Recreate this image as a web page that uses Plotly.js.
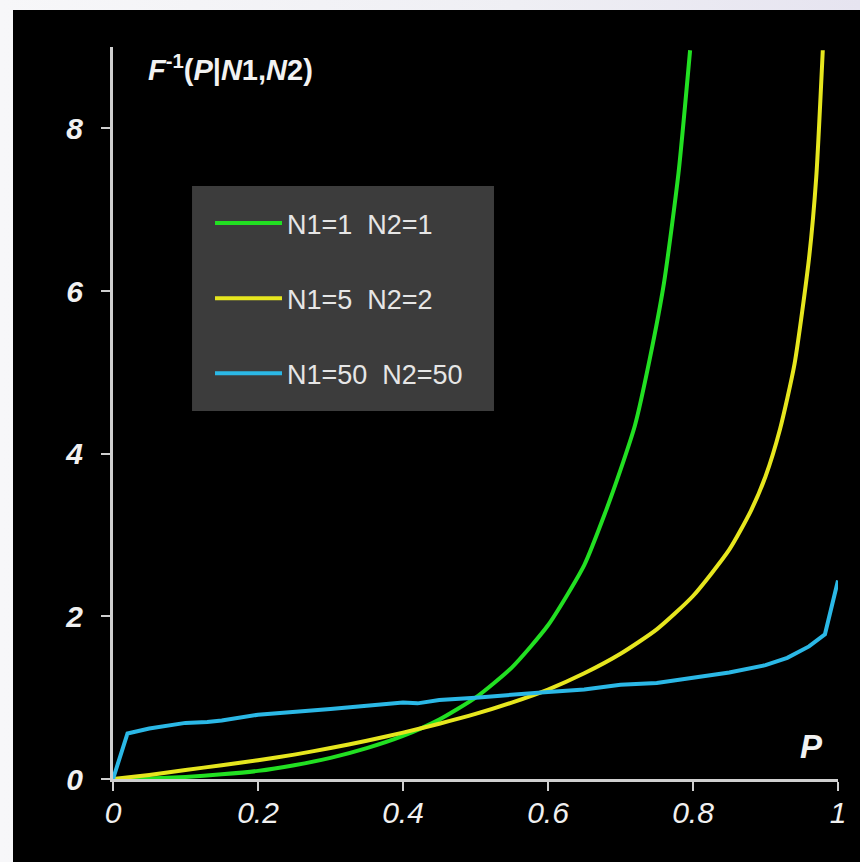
<!DOCTYPE html>
<html>
<head>
<meta charset="utf-8">
<script src="https://cdn.plot.ly/plotly-3.0.1.min.js"></script>
<style>
  html, body { margin: 0; padding: 0; width: 860px; height: 862px; overflow: hidden;
    background: linear-gradient(90deg, #f7f7f9 0%, #efeff4 60%, #e6e4f0 100%); }
  #chart { position: absolute; left: 13px; top: 10px; width: 847px; height: 852px; }
</style>
</head>
<body>
<div id="chart"></div>
<script>
// Series
const p_n1_1 = [0, 0.05, 0.1, 0.15, 0.2, 0.25, 0.3, 0.35, 0.4, 0.45, 0.5, 0.55, 0.6, 0.65, 0.68, 0.7, 0.72, 0.74, 0.76, 0.78, 0.796];
const v_n1_1 = [0, 0.006, 0.025, 0.057, 0.1, 0.17, 0.26, 0.38, 0.53, 0.73, 1.0, 1.37, 1.89, 2.63, 3.3, 3.8, 4.35, 5.15, 6.1, 7.45, 8.96];

const p_n1_5 = [0, 0.05, 0.1, 0.15, 0.2, 0.25, 0.3, 0.35, 0.4, 0.45, 0.5, 0.55, 0.6, 0.65, 0.7, 0.75, 0.8, 0.85, 0.88, 0.9, 0.92, 0.94, 0.96, 0.97, 0.979];
const v_n1_5 = [0, 0.05, 0.11, 0.17, 0.23, 0.30, 0.38, 0.47, 0.57, 0.68, 0.80, 0.94, 1.10, 1.30, 1.54, 1.84, 2.25, 2.82, 3.3, 3.72, 4.3, 5.1, 6.4, 7.4, 8.96];

const p_n1_50 = [0, 0.02, 0.05, 0.08, 0.1, 0.13, 0.15, 0.2, 0.25, 0.3, 0.35, 0.4, 0.42, 0.45, 0.5, 0.55, 0.6, 0.65, 0.7, 0.75, 0.8, 0.85, 0.9, 0.93, 0.96, 0.982, 1.0];
const v_n1_50 = [0, 0.56, 0.62, 0.66, 0.69, 0.70, 0.72, 0.79, 0.82, 0.86, 0.90, 0.94, 0.93, 0.97, 1.00, 1.04, 1.07, 1.10, 1.16, 1.18, 1.25, 1.31, 1.40, 1.49, 1.63, 1.78, 2.44];

const seriesNames = ['N1=1  N2=1', 'N1=5  N2=2', 'N1=50  N2=50'];
const xTickVals = [0, 0.2, 0.4, 0.6, 0.8, 1];
const xTickText = ['0', '0.2', '0.4', '0.6', '0.8', '1'];
const yTickVals = [0, 2, 4, 6, 8];
const yTickText = ['0', '2', '4', '6', '8'];

const FONT = '"Liberation Sans", Arial, sans-serif';
const AXIS_COLOR = '#cfcfcf';

const traces = [
  { x: p_n1_1, y: v_n1_1, name: seriesNames[0], mode: 'lines', legendgroup: 'a',
    line: { color: '#22e022', width: 4, shape: 'spline', smoothing: 0.6 } },
  { x: p_n1_5, y: v_n1_5, name: seriesNames[1], mode: 'lines', legendgroup: 'b',
    line: { color: '#e6e61e', width: 4, shape: 'spline', smoothing: 0.6 } },
  { x: p_n1_50, y: v_n1_50, name: seriesNames[2], mode: 'lines', legendgroup: 'c',
    line: { color: '#2bb8e6', width: 4 } }
];

const layout = {
  width: 847, height: 852,
  paper_bgcolor: '#000000', plot_bgcolor: '#000000',
  margin: { l: 100, r: 22, t: 37, b: 83 },
  showlegend: true,
  legend: {
    x: 0.1338, y: 0.7923, xanchor: 'left', yanchor: 'top',
    bgcolor: 'rgba(0,0,0,0)', borderwidth: 0,
    font: { family: FONT, size: 27, color: '#e6e6e6' },
    tracegroupgap: 37, itemwidth: 67
  },
  shapes: [
    { type: 'rect', xref: 'paper', yref: 'paper', x0: 0.109, x1: 0.5255, y0: 0.5027, y1: 0.8101,
      fillcolor: '#3c3c3c', line: { width: 0 }, layer: 'above' }
  ],
  xaxis: {
    range: [0, 1], showgrid: false, zeroline: false,
    showline: true, linecolor: AXIS_COLOR, linewidth: 3,
    ticks: 'outside', ticklen: 9, tickwidth: 2, tickcolor: AXIS_COLOR,
    tickvals: xTickVals, ticktext: xTickText,
    tickfont: { family: FONT, size: 30, color: '#f0f0f0', style: 'italic' },
    ticklabelstandoff: -4
  },
  yaxis: {
    range: [0, 9], showgrid: false, zeroline: false,
    showline: true, linecolor: AXIS_COLOR, linewidth: 3,
    ticks: 'outside', ticklen: 9, tickwidth: 2, tickcolor: AXIS_COLOR,
    tickvals: yTickVals, ticktext: yTickText,
    tickfont: { family: FONT, size: 30, color: '#f0f0f0', style: 'italic', weight: 'bold' },
    ticklabelstandoff: 12
  },
  annotations: [
    { xref: 'paper', yref: 'paper', x: 0.046, y: 0.971, xanchor: 'left', yanchor: 'middle',
      showarrow: false,
      text: '<b><i>F</i><sup>-1</sup>(<i>P</i>|<i>N</i>1,<i>N</i>2)</b>',
      font: { family: FONT, size: 29, color: '#f2f2f2' } },
    { xref: 'paper', yref: 'paper', x: 0.964, y: 0.045, xanchor: 'center', yanchor: 'middle',
      showarrow: false, text: '<b><i>P</i></b>',
      font: { family: FONT, size: 33, color: '#f2f2f2' } }
  ]
};

Plotly.newPlot('chart', traces, layout, { displayModeBar: false, staticPlot: true });
</script>
</body>
</html>
